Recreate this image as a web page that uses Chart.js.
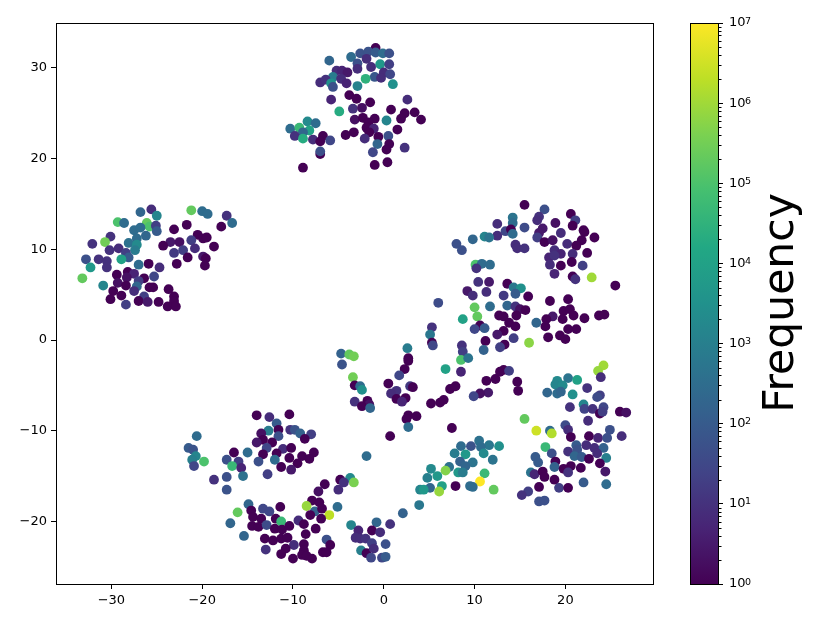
<!DOCTYPE html>
<html>
<head>
<meta charset="utf-8">
<title>Frequency scatter</title>
<script src="https://cdn.jsdelivr.net/npm/chart.js@4"></script>
<style>
    html, body { margin: 0; padding: 0; background: #fff; }
    canvas { position: absolute; top: 0; }
    #scatter-chart { left: 0; }
    #colorbar-chart { left: 670px; }
</style>
</head>
<body>
<canvas id="scatter-chart" width="670" height="623"></canvas>
<canvas id="colorbar-chart" width="160" height="623"></canvas>
<script>
// 读图估计的数据，每行一个簇
const pointX = [
    -25.6,-26.8,-25.0,-21.2,-20.0,-19.4,-17.3,-16.7,-17.9,-29.3,-28.6,-26.1,-25.8,-25.1,-25.0,-23.1,-21.7,-27.5,-26.8,-26.2,-30.1,-30.7,-27.2,-32.1,-28.1,-27.2,-27.4,-20.5,-19.9,-19.5,-23.5,-22.5,-24.3,-21.2,-20.8,-18.7,-30.2,-29.2,-28.4,-23.1,-22.1,-28.1,-32.8,-31.4,-30.5,-28.9,-21.6,-19.9,-19.6,-22.8,-19.7,-27.0,-25.9,-24.7,-32.3,-30.5,-29.4,-28.2,-27.5,-28.3,-26.4,-25.3,-33.2,-29.3,-27.0,-30.9,-28.4,-27.2,-25.8,-25.4,-23.7,-29.8,-27.5,-28.9,-26.4,-23.1,-30.1,-27.0,-26.0,-24.8,-23.1,-28.4,-23.8,-22.9,
    -0.9,-2.6,-3.6,-1.7,-0.9,-0.1,0.6,-6.0,-1.9,-2.9,-0.4,0.6,-1.4,-2.9,-5.2,-4.6,-4.0,-5.6,0.0,0.7,-1.0,-0.3,-2.0,-7.0,-6.4,-4.7,-5.8,-5.6,-4.1,-2.9,1.0,-3.8,-3.0,-5.8,-1.5,2.6,-4.9,-3.4,-2.4,0.8,2.3,3.4,1.9,4.1,-3.2,-2.3,-1.0,0.3,-1.7,1.5,-1.9,-1.1,-1.6,-3.3,-4.2,-2.1,-0.6,0.5,0.6,-0.7,0.3,2.3,-1.2,-1.0,0.4,-10.3,-9.3,-8.4,-7.5,-8.2,-8.9,-9.8,-8.9,-7.8,-6.7,-7.0,-5.9,-7.0,-7.0,-8.9,
    15.5,17.7,20.6,17.1,16.9,14.2,21.1,12.5,14.2,18.9,15.5,20.8,17.5,22.0,13.4,14.0,14.2,19.5,12.5,17.1,22.1,11.1,11.6,9.8,16.9,23.2,17.7,18.6,8.0,8.6,14.5,14.7,15.5,20.2,21.8,21.2,18.8,22.4,18.2,19.5,20.8,18.8,10.1,10.8,11.7,10.2,18.3,20.7,19.5,21.9,18.8,20.8,21.1,22.9,25.5,13.6,10.4,11.6,9.2,11.3,9.8,14.3,15.1,13.2,14.5,15.9,18.3,20.3,6.0,10.0,11.7,13.6,14.5,15.0,15.6,19.8,20.5,20.9,23.7,24.3,22.1,8.7,10.3,12.7,13.2,14.6,18.6,17.9,19.7,16.8,17.8,13.8,14.5,10.6,10.0,11.1,21.2,20.3,13.2,12.5,14.3,18.1,19.4,20.0,11.2,16.0,13.3,12.8,11.0,5.3,5.1,5.3,5.4,8.6,8.7,8.5,9.3,
    -4.7,-3.8,-3.3,-4.6,2.6,2.7,2.7,2.3,1.7,6.8,8.5,-3.4,-3.2,-2.6,-2.4,0.5,1.4,0.8,2.9,3.2,1.4,2.4,2.0,-3.2,-1.8,-1.6,-2.4,-1.5,5.2,6.2,6.6,7.3,7.9,11.3,12.3,12.8,13.2,13.8,14.7,14.8,11.5,10.6,9.9,2.7,2.5,3.6,2.7,7.5,0.7,
    24.2,23.6,23.9,19.1,20.3,21.3,18.9,19.7,18.0,19.1,19.5,20.8,22.4,23.8,23.5,22.0,20.5,22.1,23.0,24.2,23.8,24.1,26.0,26.7,15.5,22.5,16.8,18.3,18.5,20.0,20.3,24.9,20.6,22.6,23.6,24.6,26.2,21.2,17.8,22.3,23.2,24.2,20.3,18.5,21.3,23.5,21.0,21.8,22.6,24.5,16.7,17.0,18.9,23.8,18.8,20.6,21.7,19.8,20.3,24.4,16.2,16.6,17.5,17.7,18.8,22.0,24.5,17.1,19.3,20.3,15.9,15.2,17.1,17.7,
    10.5,8.5,9.6,11.6,12.7,10.7,7.8,11.0,9.0,8.4,9.8,12.0,9.0,7.2,6.8,5.2,8.2,8.7,11.1,5.9,4.8,10.6,6.4,7.9,9.5,9.8,5.1,4.0,4.4,12.1,6.1,3.9,2.1,
    -14.0,-12.6,-10.4,-11.8,-12.7,-11.6,-10.3,-9.8,-9.2,-8.0,-11.6,-13.5,-8.7,-13.3,-14.0,-12.3,-12.9,-11.1,-10.2,-13.3,-11.8,-7.7,-15.0,-16.5,-9.0,-10.4,-8.2,-9.5,-13.8,-12.0,-11.3,-10.2,-12.8,-17.3,-16.0,-16.7,-15.7,-15.5,-18.7,-17.3,-17.3,-20.6,-21.5,-21.0,-20.7,-21.1,-19.8,-20.9,-1.9,
    -6.5,-4.8,-3.7,-3.3,-4.4,-5.0,-7.2,-7.9,-7.1,-8.5,-7.6,-6.8,-8.1,-6.0,-6.9,-5.1,-14.9,-16.1,-14.6,-11.4,-13.3,-12.6,-14.4,-13.5,-11.9,-11.3,-16.9,-14.5,-13.8,-12.9,-12.0,-11.2,-10.4,-9.4,-8.8,-7.5,-8.6,-15.4,-13.1,-12.2,-11.3,-10.6,-6.3,-8.8,-9.9,-10.8,-11.3,-5.9,-13.0,-8.8,-6.7,-6.3,-10.0,-9.0,-7.9,-8.5,
    0.7,-0.8,-3.6,-2.8,-1.3,-0.4,-3.1,-2.6,-2.0,-1.3,0.2,-2.5,-1.9,-1.1,-1.4,-0.2,0.2
];
const pointY = [
    14.4,14.1,13.7,14.3,14.2,13.9,13.7,12.9,12.5,13.0,12.9,12.9,12.5,12.6,12.0,12.2,12.7,12.1,12.4,11.5,11.4,10.8,11.2,10.6,10.7,10.5,9.9,11.6,11.2,11.3,10.8,10.8,10.4,11.0,10.1,10.3,9.9,10.1,9.6,9.6,9.9,9.1,8.9,8.9,8.7,8.9,9.1,9.2,9.0,8.4,8.2,8.3,8.4,8.0,8.0,8.0,7.2,7.5,7.3,6.9,6.8,7.0,6.8,6.3,6.5,6.0,6.0,5.9,5.8,5.8,5.6,5.4,5.4,4.9,4.8,4.8,4.5,4.3,4.2,4.2,4.3,3.9,3.7,3.7,
    32.2,31.6,31.2,31.8,31.7,31.6,31.6,30.8,31.0,30.5,30.4,30.4,30.1,29.9,29.7,29.7,29.5,29.0,29.5,29.3,29.0,28.9,28.8,28.4,28.7,28.8,28.3,27.9,28.3,28.0,28.2,27.0,26.6,26.5,26.2,26.5,25.2,25.5,25.6,25.4,25.0,25.1,24.4,24.3,24.3,24.5,24.4,24.2,24.0,23.2,23.4,23.3,22.9,22.9,22.6,22.2,22.4,22.5,21.6,21.6,21.0,21.2,20.7,19.3,19.6,23.3,23.4,24.1,23.9,23.1,22.9,22.5,22.2,22.1,22.5,21.9,22.0,20.5,20.8,19.0,
    14.9,14.4,13.9,13.6,13.2,13.5,13.2,12.8,12.9,12.9,12.4,12.6,12.3,12.1,12.0,12.2,11.7,11.8,11.5,11.8,11.9,11.4,11.3,11.1,11.3,11.3,10.8,11.0,10.6,9.9,10.5,10.1,10.1,10.6,11.0,10.4,9.9,9.6,9.1,9.5,9.5,9.3,8.3,8.4,8.3,7.9,8.3,8.6,8.2,8.2,7.3,7.0,6.7,6.9,6.0,6.2,6.4,6.4,5.4,5.3,4.9,5.8,5.7,4.9,5.1,4.8,4.3,4.5,4.1,3.6,3.7,3.8,3.7,3.4,3.3,3.2,3.4,2.7,2.7,2.8,2.4,2.3,2.6,2.7,2.6,2.7,2.6,2.3,2.3,1.9,1.5,1.9,1.5,1.6,1.2,1.3,1.2,1.2,1.0,0.6,0.2,0.3,0.5,0.1,-0.1,-0.3,-0.5,-0.8,-1.1,1.4,0.6,-0.3,-0.6,-0.6,-1.3,-2.2,-2.0,
    -1.5,-1.6,-1.8,-2.7,-0.9,-2.0,-2.3,-3.2,-3.9,-3.2,-3.5,-4.1,-5.0,-5.1,-5.5,-4.8,-5.6,-5.9,-5.1,-5.2,-6.5,-6.4,-6.8,-6.8,-6.7,-7.1,-7.3,-7.5,-7.0,-6.9,-6.6,-5.4,-5.1,-4.5,-4.3,-3.5,-3.3,-3.4,-4.6,-5.6,-5.8,-5.9,-6.2,-8.3,-8.7,-8.4,-9.6,-9.7,-10.6,
    -2.8,-3.4,-4.1,-4.5,-4.2,-4.4,-4.9,-5.0,-5.8,-5.9,-5.7,-6.0,-5.3,-6.1,-6.3,-7.1,-7.4,-7.6,-7.6,-7.4,-8.1,-7.9,-7.9,-8.0,-8.7,-8.9,-10.0,-10.0,-10.3,-9.4,-9.9,-9.9,-10.7,-10.6,-10.8,-10.8,-10.6,-11.6,-11.8,-11.6,-11.9,-11.9,-12.3,-12.5,-12.1,-12.5,-12.8,-12.9,-13.1,-13.0,-12.9,-13.5,-13.4,-13.6,-14.0,-13.9,-14.1,-14.2,-14.6,-14.5,-14.6,-14.8,-14.5,-15.1,-15.4,-15.7,-15.9,-16.2,-16.3,-16.3,-16.7,-17.1,-17.8,-17.7,
    -11.1,-11.7,-11.7,-11.6,-11.7,-11.8,-12.5,-12.5,-12.6,-13.4,-13.5,-13.2,-13.9,-14.0,-14.4,-14.2,-14.6,-14.6,-14.7,-15.0,-15.2,-15.6,-16.1,-16.1,-16.1,-16.2,-16.3,-16.5,-16.5,-16.5,-16.7,-18.2,-19.1,
    -8.3,-8.5,-8.2,-9.2,-10.0,-9.9,-9.9,-9.9,-10.3,-10.4,-10.6,-10.3,-10.9,-11.0,-11.3,-11.3,-11.9,-12.0,-11.9,-12.6,-12.5,-12.4,-12.4,-12.4,-12.8,-13.0,-13.1,-13.6,-13.4,-13.2,-14.0,-14.3,-14.8,-13.2,-13.4,-13.9,-14.1,-15.0,-15.4,-15.1,-16.5,-10.6,-11.9,-12.1,-12.8,-13.2,-13.4,-13.9,-12.8,
    -15.9,-15.4,-15.2,-15.7,-15.7,-16.5,-16.7,-17.7,-17.9,-18.3,-18.9,-18.6,-19.3,-19.3,-19.7,-18.4,-18.1,-19.0,-18.8,-18.4,-18.6,-18.9,-19.5,-19.7,-19.7,-20.0,-20.2,-20.5,-20.6,-20.4,-20.8,-20.9,-20.5,-19.9,-20.3,-20.8,-21.4,-21.6,-21.9,-22.1,-21.9,-21.8,-22.0,-22.5,-22.6,-23.0,-23.6,-22.6,-23.1,-23.2,-23.4,-23.4,-24.1,-23.7,-24.1,-23.8,
    -20.3,-20.1,-20.4,-21.0,-21.0,-21.2,-21.8,-21.9,-21.9,-22.4,-22.5,-23.2,-23.5,-23.0,-24.0,-24.0,-23.9
];
const frequency = [
    8,200,1500,2e5,300,300,10,300,1,1e5,300,2e5,1e5,20,100,1,1,300,300,200,10,3e5,300,10,400,2000,800,1,1,1,3,2,1,20,8,1,10,8,20,15,20,100,50,10,10,1e4,1,3,1,1,1,300,1,8,5000,10,1,1,5,2,1,30,2e5,2,20,1500,1,200,1,1,1,1,8,1,20,1,1,1,3,1,1,20,1,1,
    1,60,300,60,100,300,50,200,8,50,5000,20,8,8,8,5,3,800,8,30,80,8,3e4,8,10,8,3000,50,5,1200,3000,1,1,5,1,8,2e4,10,2,1,1,1,1,1,2,1,1,1500,1,1,1,5,1,1,1,8,1,50,1,200,1,10,30,1,1,300,5e4,2000,300,1e4,200,10,2e4,8,1,1,30,1,50,1,
    1,50,1,10,8,500,20,8,300,2,40,1,3,1,30,1,300,8,8,3,1,1500,500,200,20,1,1,2,50,50,8,8,10,8,1,1,8,1,5,5,8,10,1e5,300,300,10,8,1,1,20,5,1,10,1e6,1,1,10,3,3,8,8,600,3000,15,100,1,1,1,40,2e5,300,200,10,2,1,1,1,1,1,1,1,1e4,2e5,1,1,1,3,1,1,200,1,1,1,1,30,100,1,1,1,3,20,1,1,1,1,6e5,1,20,150,10,600,1,30,10,20,1e5,500,
    150,2e5,3e5,60,800,1,1,1,30,1e4,5,3e5,1,300,3000,1,10,8,15,1,1,1,5,10,1,2,1,200,1,1,1,1,1,1,1,1,1,20,1,1,3,2,30,1,1,1,300,1,1,
    1e6,8e5,8,2000,500,1e4,1500,2000,200,300,200,3000,10,20,40,1500,10,25,10,30,1,20,1,2,2e5,8,3e6,300,1.5e6,40,8,50,1,1,5,50,8,100,5e4,8,8,150,10,50,60,8,200,100,1,1000,100,100,1,1,150,1,1,1,10,3,500,5,1,1,1,100,300,1,20,1,20,10,50,50,
    400,300,60,600,3000,300,800,2000,5000,150,500,500,200,400,5e5,2000,5000,800,5e4,5000,1000,1e7,1e4,1,300,300,200,1500,5000,2e5,8e5,600,150,
    1,8,1,100,800,1,10,60,150,20,50,2,1,1,3,1,30,8,1,1,1,1,300,1,1,1,1,1,50,300,1,3,20,50,20,5e4,5,400,10,50,60,300,100,60,1500,1000,1e5,30,300,
    1,1,2000,4e5,10,8,2,1,1,8e5,150,1,1,2e6,1,300,200,2e5,1,1,30,30,1,1,1,5e4,200,1,1,40,1,1,1,8,1,1,1,200,1,1,1,1,50,1,8,1,1,1,10,1,1,1,1,1,1,1,
    10,200,1500,5,1,8,8,8,10,20,50,1000,1,8,30,30,100
];

const xTicks = [-30, -20, -10, 0, 10, 20];
const yTicks = [-20, -10, 0, 10, 20, 30];
const colorbarDecades = [1, 10, 100, 1000, 10000, 100000, 1000000, 10000000];

// viridis 色带，每 0.1 一个色标
const viridis = ['#440154', '#482475', '#414487', '#355f8d', '#2a788e', '#21918c', '#22a884', '#44bf70', '#7ad151', '#bddf26', '#fde725'];

function hexToRgb(hex) {
    return [1, 3, 5].map(i => parseInt(hex.slice(i, i + 2), 16));
}

function viridisColor(t) {
    const pos = Math.min(Math.max(t, 0), 1) * (viridis.length - 1);
    const i = Math.min(Math.floor(pos), viridis.length - 2);
    const a = hexToRgb(viridis[i]);
    const b = hexToRgb(viridis[i + 1]);
    const c = a.map((v, k) => Math.round(v + (b[k] - v) * (pos - i)));
    return `rgb(${c[0]}, ${c[1]}, ${c[2]})`;
}

function frequencyColor(f) {
    return viridisColor(Math.log10(f) / 7);
}

// 四边黑框
const framePlugin = {
    id: 'frame',
    afterDraw(chart) {
        const { ctx, chartArea: a } = chart;
        ctx.save();
        ctx.strokeStyle = '#000';
        ctx.lineWidth = 1;
        ctx.strokeRect(a.left + 0.5, a.top + 0.5, a.right - a.left, a.bottom - a.top);
        ctx.restore();
    }
};

// 色条的短刻度、指数和竖排标题
const colorbarPlugin = {
    id: 'colorbarExtras',
    afterDraw(chart) {
        const { ctx, chartArea: a, scales } = chart;
        ctx.save();
        ctx.strokeStyle = '#000';
        ctx.lineWidth = 1;
        scales.y.ticks.forEach(t => {
            const py = Math.round(scales.y.getPixelForValue(t.value)) + 0.5;
            if (t.major) return;
            ctx.beginPath();
            ctx.moveTo(a.right, py);
            ctx.lineTo(a.right + 3.5, py);
            ctx.stroke();
        });
        ctx.fillStyle = '#000';
        ctx.textAlign = 'left';
        ctx.textBaseline = 'alphabetic';
        ctx.font = '9.5px "DejaVu Sans"';
        colorbarDecades.forEach(d => {
            const py = scales.y.getPixelForValue(d);
            ctx.fillText(String(Math.round(Math.log10(d))), a.right + 27, py + 0.5);
        });
        ctx.translate(123, 303);
        ctx.rotate(-Math.PI / 2);
        ctx.font = '42.5px "DejaVu Sans"';
        ctx.textAlign = 'center';
        ctx.fillText('Frequency', 0, 0);
        ctx.restore();
    }
};

const tickFont = { family: '"DejaVu Sans"', size: 13 };

function fixedTicks(values) {
    return function(scale) {
        scale.ticks = values.map(v => ({ value: v }));
    };
}

function formatTick(value) {
    return String(value).replace('-', '\u2212');
}

function colorbarTicks(scale) {
    const ticks = [];
    colorbarDecades.forEach((d, i) => {
        ticks.push({ value: d, major: true });
        if (i < colorbarDecades.length - 1) {
            for (let m = 2; m < 10; m++) ticks.push({ value: d * m, major: false });
        }
    });
    scale.ticks = ticks;
}

function createScatter(ctx) {
    return new Chart(ctx, {
        type: 'scatter',
        data: {
            datasets: [{
                data: pointX.map((x, i) => ({ x: x, y: pointY[i] })),
                backgroundColor: frequency.map(frequencyColor),
                borderWidth: 0,
                pointRadius: 4.9,
                pointHoverRadius: 4.9
            }]
        },
        options: {
            responsive: false,
            animation: false,
            layout: { padding: { top: 23, right: 17, left: 0, bottom: 0 } },
            plugins: { legend: { display: false }, tooltip: { enabled: false } },
            scales: {
                x: {
                    type: 'linear',
                    min: -36.1,
                    max: 29.65,
                    afterBuildTicks: fixedTicks(xTicks),
                    afterFit: s => { s.height = 39; },
                    grid: { drawOnChartArea: false, tickLength: 5, tickColor: '#000' },
                    border: { display: false },
                    ticks: { color: '#000', font: tickFont, padding: 4, maxRotation: 0, callback: formatTick }
                },
                y: {
                    type: 'linear',
                    min: -26.9,
                    max: 34.95,
                    afterBuildTicks: fixedTicks(yTicks),
                    afterFit: s => { s.width = 56; },
                    grid: { drawOnChartArea: false, tickLength: 5, tickColor: '#000' },
                    border: { display: false },
                    ticks: { color: '#000', font: tickFont, padding: 4, callback: formatTick }
                }
            }
        },
        plugins: [framePlugin]
    });
}

function colorbarFill(context) {
    const a = context.chart.chartArea;
    if (!a) return viridis[0];
    const g = context.chart.ctx.createLinearGradient(0, a.bottom, 0, a.top);
    viridis.forEach((c, i) => g.addColorStop(i / (viridis.length - 1), c));
    return g;
}

function createColorbar(ctx) {
    return new Chart(ctx, {
        type: 'bar',
        data: {
            labels: ['Frequency'],
            datasets: [{
                data: [[colorbarDecades[0], colorbarDecades[colorbarDecades.length - 1]]],
                backgroundColor: colorbarFill,
                barPercentage: 1,
                categoryPercentage: 1
            }]
        },
        options: {
            responsive: false,
            animation: false,
            layout: { padding: { top: 23, right: 0, left: 20, bottom: 39 } },
            plugins: { legend: { display: false }, tooltip: { enabled: false } },
            scales: {
                x: { display: false },
                y: {
                    type: 'logarithmic',
                    position: 'right',
                    min: 1,
                    max: 10000000,
                    afterBuildTicks: colorbarTicks,
                    afterFit: s => { s.width = 112; },
                    grid: {
                        drawOnChartArea: false,
                        tickLength: 5,
                        tickColor: c => (c.tick && c.tick.major ? '#000' : 'rgba(0,0,0,0)')
                    },
                    border: { display: false },
                    ticks: {
                        color: '#000',
                        font: tickFont,
                        padding: 6,
                        autoSkip: false,
                        callback: function(value, i, ticks) {
                            return ticks[i].major ? '10' : '';
                        }
                    }
                }
            }
        },
        plugins: [framePlugin, colorbarPlugin]
    });
}

createScatter(document.getElementById('scatter-chart').getContext('2d'));
createColorbar(document.getElementById('colorbar-chart').getContext('2d'));
</script>
</body>
</html>
